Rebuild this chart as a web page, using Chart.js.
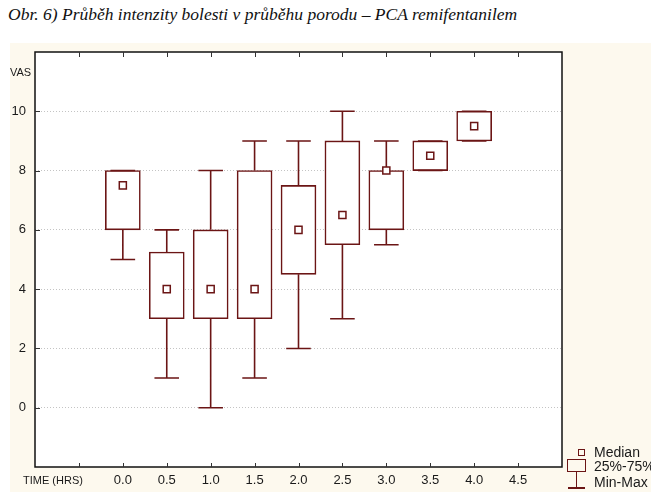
<!DOCTYPE html>
<html>
<head>
<meta charset="utf-8">
<script src="https://cdn.jsdelivr.net/npm/chart.js@4"></script>
<style>
  body { margin: 0; width: 651px; height: 492px; overflow: hidden; position: relative; background: #fff;
         font-family: 'Liberation Sans', Arial, sans-serif; color: #1a1a1a; }
  #panel { position: absolute; left: 10px; top: 43px; width: 641px; height: 449px; background: #fdf9ee; }
  #title { position: absolute; left: 8px; top: 4px; font: italic 17.5px 'Liberation Serif', serif; color: #111; white-space: nowrap; }
  canvas { position: absolute; left: 0; top: 0; }
  .lbl { position: absolute; white-space: nowrap; line-height: 14px; }
  .leg { position: absolute; left: 594px; font-size: 14px; line-height: 16px; white-space: nowrap; }
  .ic { position: absolute; box-sizing: border-box; }
</style>
</head>
<body>
<div id="panel"></div>
<div id="title">Obr. 6) Průběh intenzity bolesti v průběhu porodu – PCA remifentanilem</div>
<canvas id="chart" width="651" height="492"></canvas>
<div class="lbl" style="left:10px; top:65px; font-size:11px;">VAS</div>
<div class="lbl" style="left:23px; top:473px; font-size:11px;">TIME (HRS)</div>

<!-- legenda -->
<div class="ic" style="left:578px; top:449px; width:7px; height:7px; border:1.5px solid #6b1515;"></div>
<div class="leg" style="top:444px;">Median</div>
<div class="ic" style="left:567px; top:459px; width:19px; height:13px; border:1.5px solid #6b1515;"></div>
<div class="leg" style="top:458px;">25%-75%</div>
<div class="ic" style="left:575.5px; top:471px; width:1.5px; height:17px; background:#6b1515;"></div>
<div class="ic" style="left:568px; top:487px; width:17px; height:1.5px; background:#6b1515;"></div>
<div class="leg" style="top:474px;">Min-Max</div>

<script>
// hodnoty VAS podle casu (hodiny)
const hours = [0, 0.5, 1, 1.5, 2, 2.5, 3, 3.5, 4];
const minVals = [5, 1, 0, 1, 2, 3, 5.5, 8, 9];
const q1Vals = [6, 3, 3, 3, 4.5, 5.5, 6, 8, 9];
const q3Vals = [8, 5.25, 6, 8, 7.5, 9, 8, 9, 10];
const maxVals = [8, 6, 8, 9, 9, 10, 9, 9, 10];
const medianVals = [7.5, 4, 4, 4, 6, 6.5, 8, 8.5, 9.5];

const xTicks = [-0.5, 0, 0.5, 1, 1.5, 2, 2.5, 3, 3.5, 4, 4.5];
const yTicks = [0, 2, 4, 6, 8, 10];

const maroon = '#6b1515';
const capHalf = 0.14; // polovina sirky vousu v hodinach

// usecky vousu, oddelene null body
const whiskerPts = [];
hours.forEach((h, i) => {
  whiskerPts.push({ x: h - capHalf, y: minVals[i] }, { x: h + capHalf, y: minVals[i] },
                  { x: h, y: minVals[i] }, { x: h, y: q1Vals[i] }, { x: h, y: null });
  whiskerPts.push({ x: h, y: q3Vals[i] }, { x: h, y: maxVals[i] },
                  { x: h - capHalf, y: maxVals[i] }, { x: h + capHalf, y: maxVals[i] }, { x: h, y: null });
});

// bile pozadi grafu, ramecek a vnitrni carky
const framePlugin = {
  id: 'frame',
  beforeDraw(chart) {
    const { ctx, chartArea: a } = chart;
    ctx.save();
    ctx.fillStyle = '#fff';
    ctx.fillRect(a.left, a.top, a.right - a.left, a.bottom - a.top);
    ctx.restore();
  },
  afterDraw(chart) {
    const { ctx, chartArea: a, scales } = chart;
    ctx.save();
    ctx.strokeStyle = '#111';
    ctx.lineWidth = 1.5;
    ctx.strokeRect(a.left, a.top, a.right - a.left, a.bottom - a.top);
    ctx.lineWidth = 1;
    ctx.strokeStyle = '#333';
    ctx.beginPath();
    xTicks.forEach(v => {
      const px = Math.round(scales.x.getPixelForValue(v)) + 0.5;
      ctx.moveTo(px, a.top); ctx.lineTo(px, a.top + 5);
      ctx.moveTo(px, a.bottom); ctx.lineTo(px, a.bottom - 4);
    });
    yTicks.forEach(v => {
      const py = Math.round(scales.y.getPixelForValue(v)) + 0.5;
      ctx.moveTo(a.left, py); ctx.lineTo(a.left + 5, py);
    });
    ctx.stroke();
    ctx.restore();
  }
};

new Chart(document.getElementById('chart'), {
  type: 'bar',
  data: {
    datasets: [
      {
        type: 'scatter',
        label: 'Median',
        data: hours.map((h, i) => ({ x: h, y: medianVals[i] })),
        pointStyle: 'rect',
        pointRadius: 5,
        pointBackgroundColor: '#fff',
        pointBorderColor: maroon,
        pointBorderWidth: 1.5,
        order: 0
      },
      {
        type: 'scatter',
        label: 'Min-Max',
        data: whiskerPts,
        showLine: true,
        spanGaps: false,
        pointRadius: 0,
        borderColor: maroon,
        borderWidth: 1.6,
        order: 1
      },
      {
        type: 'bar',
        label: '25%-75%',
        data: hours.map((h, i) => ({ x: h, y: [q1Vals[i], q3Vals[i]] })),
        backgroundColor: '#fff',
        borderColor: maroon,
        borderWidth: 1.6,
        borderSkipped: false,
        barThickness: 35,
        order: 2
      }
    ]
  },
  options: {
    responsive: false,
    animation: false,
    layout: { padding: { top: 52, right: 89, left: 0, bottom: 0 } },
    plugins: { legend: { display: false }, tooltip: { enabled: false } },
    scales: {
      x: {
        type: 'linear',
        min: -1,
        max: 5,
        offset: false,
        afterBuildTicks: s => { s.ticks = xTicks.map(v => ({ value: v })); },
        afterFit: s => { s.height = 25; },
        grid: { display: false, drawTicks: false },
        border: { display: false },
        ticks: {
          padding: 6,
          autoSkip: false,
          maxRotation: 0,
          color: '#1a1a1a',
          font: { size: 13, family: "'Liberation Sans', Arial, sans-serif" },
          callback: v => v < 0 ? '' : v.toFixed(1)
        }
      },
      y: {
        min: -2,
        max: 12,
        afterBuildTicks: s => { s.ticks = yTicks.map(v => ({ value: v })); },
        afterFit: s => { s.width = 35; },
        grid: { color: '#c4c4c4', lineWidth: 1, drawTicks: false, borderDash: [1, 2] },
        border: { display: false, dash: [1, 2] },
        ticks: {
          padding: 9,
          color: '#1a1a1a',
          font: { size: 13, family: "'Liberation Sans', Arial, sans-serif" }
        }
      }
    }
  },
  plugins: [framePlugin]
});
</script>
</body>
</html>
